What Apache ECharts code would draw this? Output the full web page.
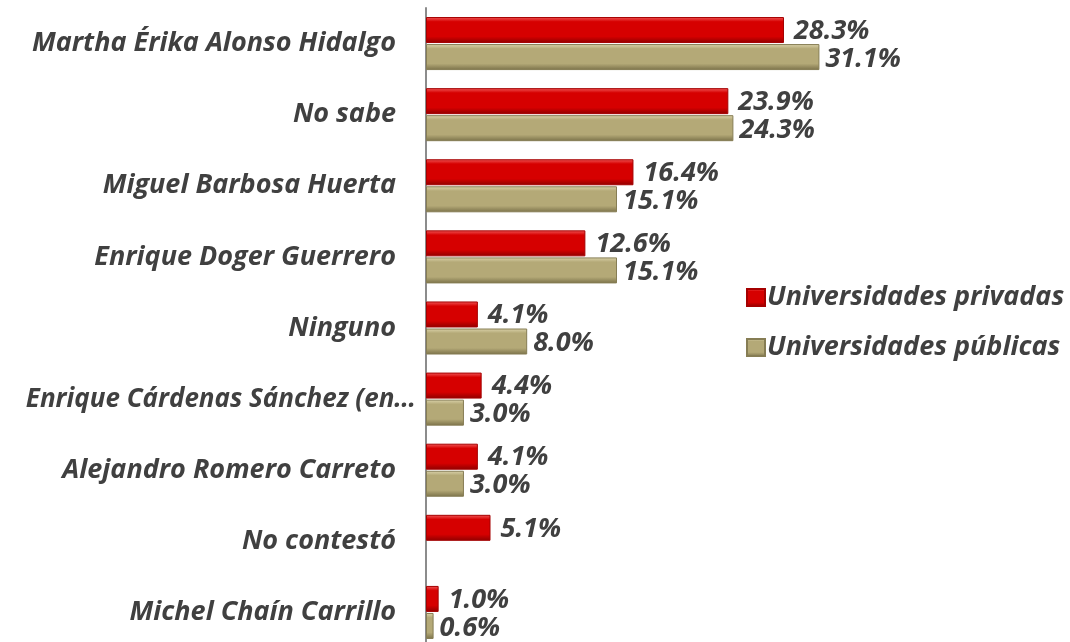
<!DOCTYPE html>
<html>
<head>
<meta charset="utf-8">
<script src="https://cdn.jsdelivr.net/npm/echarts@6/dist/echarts.min.js"></script>
<style>
  html, body { margin: 0; padding: 0; background: #fff; }
  #chart { width: 1070px; height: 642px; }
</style>
</head>
<body>
<div id="chart"></div>
<script>
// categorías (de arriba a abajo)
const categories = [
    'Martha Érika Alonso Hidalgo',
    'No sabe',
    'Miguel Barbosa Huerta',
    'Enrique Doger Guerrero',
    'Ninguno',
    'Enrique Cárdenas Sánchez (en…',
    'Alejandro Romero Carreto',
    'No contestó',
    'Michel Chaín Carrillo'
];
const privadas = [28.3, 23.9, 16.4, 12.6, 4.1, 4.4, 4.1, 5.1, 1.0];
const publicas = [31.1, 24.3, 15.1, 15.1, 8.0, 3.0, 3.0, null, 0.6];
const seriesNames = ['Universidades privadas', 'Universidades públicas'];

const FONT = '"Open Sans", "Noto Sans", sans-serif';

// degradado vertical para simular el relieve de las barras
function grad(top, mid, bottom) {
    return new echarts.graphic.LinearGradient(0, 0, 0, 1, [
        { offset: 0, color: top },
        { offset: 0.18, color: mid },
        { offset: 0.75, color: mid },
        { offset: 1, color: bottom }
    ]);
}

const labelStyle = {
    show: true,
    position: 'right',
    fontFamily: FONT,
    fontSize: 27,
    fontStyle: 'italic',
    fontWeight: 'bold',
    color: '#404040',
    formatter: p => p.value == null ? '' : p.value.toFixed(1) + '%'
};

// la etiqueta recortada queda más cerca del eje, como en el original
const yData = categories.map(c => c.endsWith('…')
    ? { value: c, textStyle: { fontSize: 26, padding: [0, -20, 0, 0] } }
    : c);

const chart = echarts.init(document.getElementById('chart'));
chart.setOption({
    animation: false,
    grid: {
        left: 426, right: 138, top: 8, bottom: -6,
        containLabel: false,
        outerBoundsMode: 'none'
    },
    legend: {
        orient: 'vertical',
        left: 741,
        top: 279,
        itemWidth: 18,
        itemHeight: 17,
        itemGap: 23,
        icon: 'rect',
        textStyle: {
            fontFamily: FONT,
            fontSize: 27,
            fontStyle: 'italic',
            fontWeight: 'bold',
            color: '#404040',
            padding: [0, 0, 0, -3]
        },
        data: seriesNames
    },
    xAxis: {
        type: 'value',
        min: 0,
        max: 40,
        show: false
    },
    yAxis: {
        type: 'category',
        inverse: true,
        data: yData,
        axisTick: { show: false },
        axisLine: { show: true, lineStyle: { color: '#8c8c8c', width: 2 } },
        axisLabel: {
            margin: 30,
            fontFamily: FONT,
            fontSize: 27,
            fontStyle: 'italic',
            fontWeight: 'bold',
            color: '#404040'
        }
    },
    series: [
        {
            name: seriesNames[0],
            type: 'bar',
            data: privadas,
            barWidth: 26,
            barGap: '4%',
            itemStyle: {
                color: grad('#f25a5a', '#d60000', '#8e0000'),
                borderColor: '#a50000',
                borderWidth: 1
            },
            label: Object.assign({}, labelStyle, { distance: 10, offset: [0, 1] })
        },
        {
            name: seriesNames[1],
            type: 'bar',
            data: publicas,
            barWidth: 26,
            itemStyle: {
                color: grad('#dcd4ac', '#b4a977', '#7a7149'),
                borderColor: '#867d54',
                borderWidth: 1
            },
            label: Object.assign({}, labelStyle, { distance: 6, offset: [0, 2] })
        }
    ]
});
</script>
</body>
</html>
